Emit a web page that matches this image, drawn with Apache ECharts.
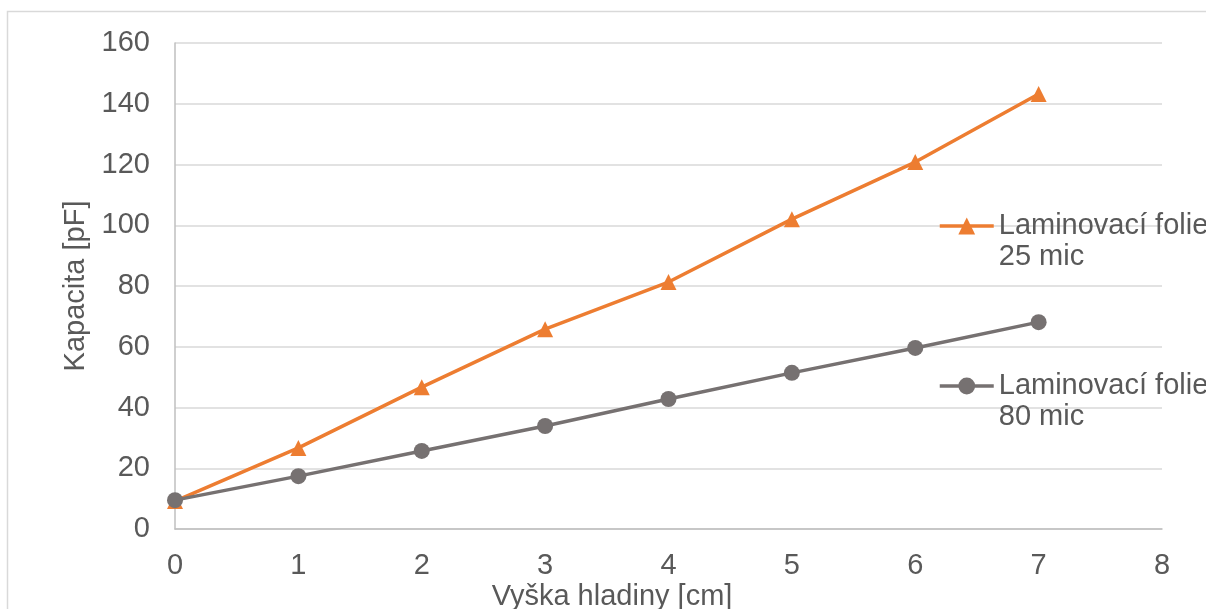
<!DOCTYPE html>
<html lang="cs">

<head>
    <meta charset="UTF-8">
    <title>Kapacita</title>
    <script src="https://cdn.jsdelivr.net/npm/echarts@6/dist/echarts.min.js"></script>
    <style>
        html, body { margin: 0; padding: 0; background: #fff; }
    </style>
</head>

<body>
    <div id="main" style="width: 1206px;height:609px;"></div>
    <script type="text/javascript">
        // hodnoty
        var vyska = [0, 1, 2, 3, 4, 5, 6, 7]
        var folie25 = [9.2, 26.7, 46.7, 65.8, 81.3, 102, 120.8, 143.2]
        var folie80 = [9.5, 17.4, 25.7, 33.9, 42.8, 51.4, 59.6, 68.1]
        var nazvy = ['Laminovací folie\n25 mic', 'Laminovací folie\n80 mic']
        var yTicks = [0, 20, 40, 60, 80, 100, 120, 140, 160]

        var pary = (ys) => vyska.map((x, i) => [x, ys[i]])

        var font = 'Liberation Sans, Arial, sans-serif'
        var seda = '#595959'
        var velikost = 29

        var myChart = echarts.init(document.getElementById('main'));

        // legenda: prázdný první řádek, aby ikona seděla u prvního řádku textu
        var legenda = (jmeno, top) => ({
            data: [jmeno],
            left: 938,
            top: top,
            padding: 0,
            itemWidth: 54,
            itemHeight: 21,
            selectedMode: false,
            formatter: n => '\n' + n,
            lineStyle: { width: 3.5 },
            textStyle: {
                fontFamily: font,
                fontSize: velikost,
                lineHeight: 31,
                color: seda
            }
        })

        var option = {
            animation: false,
            graphic: [{
                type: 'rect',
                shape: { x: 7.5, y: 11.5, width: 1400, height: 800 },
                style: { fill: 'none', stroke: '#d9d9d9', lineWidth: 1.5 },
                silent: true
            }, {
                type: 'text',
                x: 612,
                y: 597,
                style: {
                    text: 'Vyška hladiny [cm]',
                    fontFamily: font,
                    fontSize: velikost,
                    fill: seda,
                    align: 'center',
                    verticalAlign: 'middle'
                }
            }],
            grid: { left: 175, right: 44, top: 43, bottom: 80 },
            legend: [legenda(nazvy[0], 226 - 46.5), legenda(nazvy[1], 386 - 46.5)],
            xAxis: {
                type: 'value',
                min: 0,
                max: 8,
                interval: 1,
                axisLine: { show: true, lineStyle: { color: '#bfbfbf', width: 1.5 } },
                axisTick: { show: false },
                splitLine: { show: false },
                axisLabel: { fontFamily: font, fontSize: velikost, color: seda, margin: 22 }
            },
            yAxis: {
                type: 'value',
                min: yTicks[0],
                max: yTicks[yTicks.length - 1],
                interval: 20,
                name: 'Kapacita [pF]',
                nameLocation: 'middle',
                nameGap: 82,
                nameTextStyle: { fontFamily: font, fontSize: velikost, color: seda },
                axisLine: { show: true, lineStyle: { color: '#bfbfbf', width: 1.5 } },
                axisTick: { show: false },
                splitLine: { lineStyle: { color: '#d9d9d9', width: 1.5 } },
                axisLabel: { fontFamily: font, fontSize: velikost, color: seda, margin: 25 }
            },
            series: [{
                name: nazvy[0],
                type: 'line',
                data: pary(folie25),
                symbol: 'triangle',
                symbolSize: 16,
                color: '#ed7d31',
                lineStyle: { width: 3.5, color: '#ed7d31' },
                itemStyle: { color: '#ed7d31' }
            }, {
                name: nazvy[1],
                type: 'line',
                data: pary(folie80),
                symbol: 'circle',
                symbolSize: 16,
                color: '#767171',
                lineStyle: { width: 3.5, color: '#767171' },
                itemStyle: { color: '#767171' }
            }]
        };

        myChart.setOption(option);
    </script>
</body>

</html>
